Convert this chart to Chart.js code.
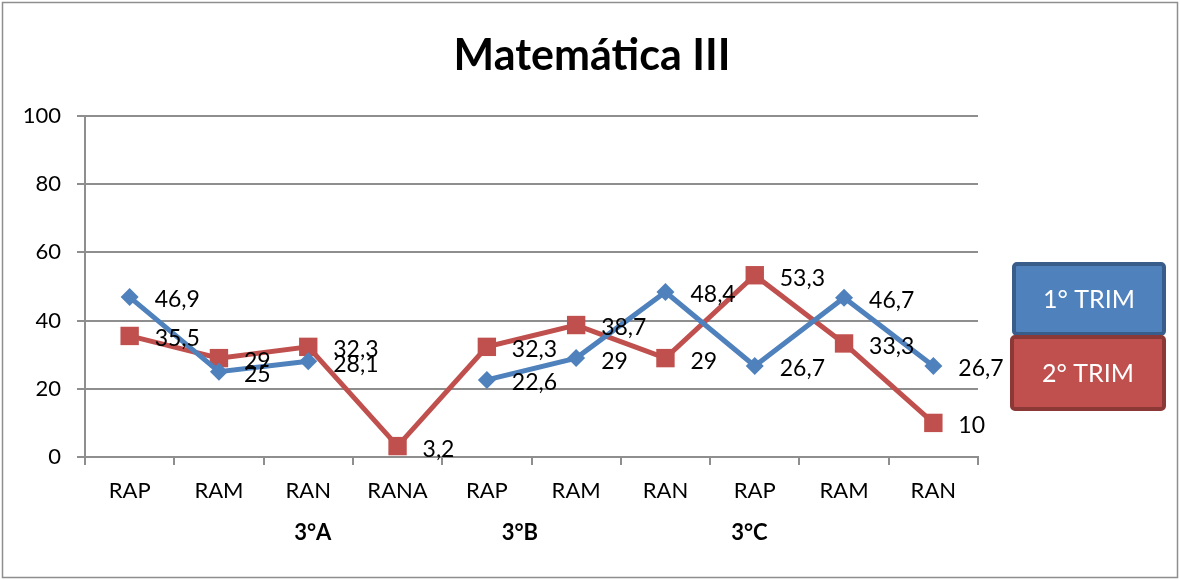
<!DOCTYPE html>
<html>
<head>
<meta charset="utf-8">
<title>Matemática III</title>
<script src="https://cdn.jsdelivr.net/npm/chart.js@4/dist/chart.umd.min.js"></script>
<style>
  html, body { margin: 0; padding: 0; background: #fff; }
  #wrap { position: relative; width: 1180px; height: 580px; }
</style>
</head>
<body>
<div id="wrap"><canvas id="c" width="1180" height="580"></canvas></div>
<script>
// Categories (rendimiento) and the class each block belongs to
const categories = ['RAP', 'RAM', 'RAN', 'RANA', 'RAP', 'RAM', 'RAN', 'RAP', 'RAM', 'RAN'];
const groupLabels = ['3°A', '3°B', '3°C'];
const groupCenters = [2.05, 4.37, 6.94]; // position along the category axis (index units)

// Series values (percentages)
const trim1 = [46.9, 25, 28.1, null, 22.6, 29, 48.4, 26.7, 46.7, 26.7];
const trim2 = [35.5, 29, 32.3, 3.2, 32.3, 38.7, 29, 53.3, 33.3, 10];
const seriesNames = ['1° TRIM', '2° TRIM'];

// Y axis ticks
const yMin = 0, yMax = 100, yStep = 20;

const FONT = 'Lato, "Open Sans", "DejaVu Sans", sans-serif';
const BLUE = '#4F81BD', BLUE_DARK = '#385D8A';
const RED = '#C0504D', RED_DARK = '#8C3836';
const GRID = '#8E8E8E';

const fmt = v => String(v).replace('.', ',');

// Title, border, value labels, class labels and boxed legend
const decorations = {
  id: 'decorations',
  afterDraw(chart) {
    const ctx = chart.ctx;
    const x = chart.scales.x;
    ctx.save();

    // outer frame
    ctx.strokeStyle = GRID;
    ctx.lineWidth = 1.5;
    ctx.strokeRect(2.5, 2.5, chart.width - 5, chart.height - 5);

    // title
    ctx.fillStyle = '#000';
    ctx.font = 'bold 43px ' + FONT;
    ctx.textAlign = 'center';
    ctx.textBaseline = 'middle';
    ctx.fillText('Matemática III', 592, 56);

    // value labels to the right of each point
    ctx.font = '23px ' + FONT;
    ctx.textAlign = 'left';
    chart.data.datasets.forEach((ds, di) => {
      const meta = chart.getDatasetMeta(di);
      meta.data.forEach((pt, i) => {
        const v = ds.data[i];
        if (v === null || v === undefined) return;
        ctx.fillText(fmt(v), pt.x + 25, pt.y + 3);
      });
    });

    // class group labels under the category labels
    ctx.font = 'bold 22px ' + FONT;
    ctx.textAlign = 'center';
    groupLabels.forEach((g, i) => {
      ctx.fillText(g, x.getPixelForValue(groupCenters[i]), 533);
    });

    // legend boxes
    const boxes = [
      { text: seriesNames[0], fill: BLUE, stroke: BLUE_DARK, x: 1014, y: 264, w: 150, h: 70 },
      { text: seriesNames[1], fill: RED, stroke: RED_DARK, x: 1012, y: 337, w: 152, h: 72 }
    ];
    boxes.forEach(b => {
      ctx.beginPath();
      ctx.roundRect(b.x, b.y, b.w, b.h, 3);
      ctx.fillStyle = b.fill;
      ctx.fill();
      ctx.lineWidth = 4;
      ctx.strokeStyle = b.stroke;
      ctx.stroke();
      ctx.fillStyle = '#fff';
      ctx.font = '25px ' + FONT;
      ctx.textAlign = 'center';
      ctx.textBaseline = 'middle';
      ctx.fillText(b.text, b.x + b.w / 2, b.y + b.h / 2 + 1);
    });

    ctx.restore();
  }
};

new Chart(document.getElementById('c'), {
  type: 'line',
  data: {
    labels: categories,
    datasets: [
      {
        label: seriesNames[0],
        data: trim1,
        borderColor: BLUE,
        backgroundColor: BLUE,
        borderWidth: 5,
        pointStyle: 'rectRot',
        pointRadius: 9,
        pointHoverRadius: 9,
        pointBorderWidth: 0,
        spanGaps: false,
        tension: 0
      },
      {
        label: seriesNames[1],
        data: trim2,
        borderColor: RED,
        backgroundColor: RED,
        borderWidth: 5,
        pointStyle: 'rect',
        pointRadius: 13,
        pointHoverRadius: 13,
        pointBorderWidth: 0,
        tension: 0
      }
    ]
  },
  options: {
    responsive: false,
    animation: false,
    devicePixelRatio: 1,
    layout: { padding: { left: 0, top: 116, right: 202, bottom: 0 } },
    plugins: {
      legend: { display: false },
      title: { display: false },
      tooltip: { enabled: false }
    },
    scales: {
      x: {
        type: 'category',
        offset: true,
        grid: {
          display: true,
          drawOnChartArea: false,
          drawTicks: true,
          tickLength: 8,
          color: GRID,
          lineWidth: 2,
          offset: true
        },
        border: { display: true, color: GRID, width: 2 },
        ticks: {
          color: '#000',
          font: { family: FONT, size: 22 },
          padding: 13,
          maxRotation: 0,
          autoSkip: false
        },
        afterFit(s) { s.height = 123; }
      },
      y: {
        min: yMin,
        max: yMax,
        grid: {
          color: GRID,
          lineWidth: 2,
          tickLength: 8,
          drawTicks: true
        },
        border: { display: true, color: GRID, width: 2 },
        ticks: {
          stepSize: yStep,
          color: '#000',
          font: { family: FONT, size: 22 },
          padding: 16
        },
        afterFit(s) { s.width = 85; }
      }
    }
  },
  plugins: [decorations]
});
</script>
</body>
</html>
